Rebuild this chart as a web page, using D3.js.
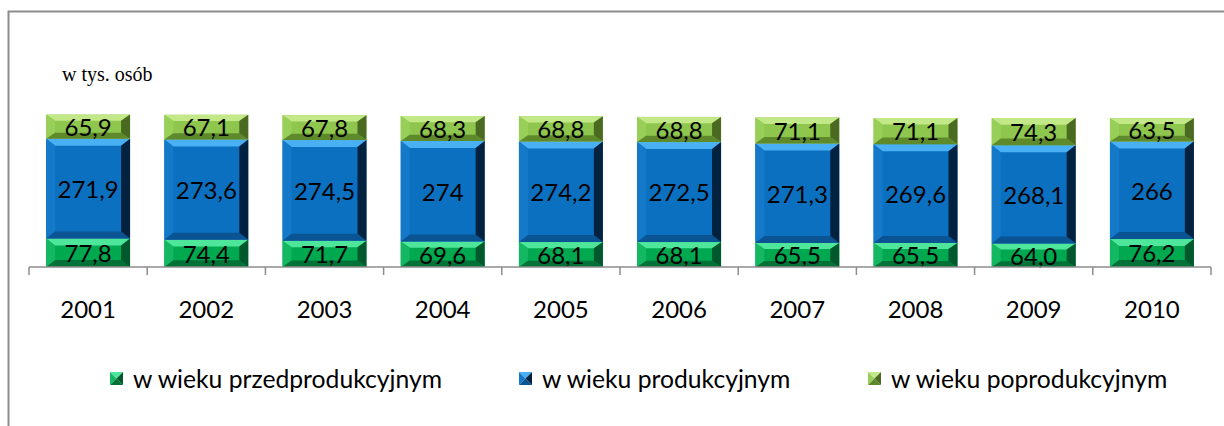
<!DOCTYPE html>
<html>
<head>
<meta charset="utf-8">
<script src="https://cdn.jsdelivr.net/npm/d3@7"></script>
<style>
  body { margin: 0; background: #fff; }
  svg text { font-family: Lato, "Open Sans", sans-serif; }
</style>
</head>
<body>
<svg width="1224" height="426"></svg>
<script>
// data (thousands of people)
var years = ["2001", "2002", "2003", "2004", "2005", "2006", "2007", "2008", "2009", "2010"];
var przed = [77.8, 74.4, 71.7, 69.6, 68.1, 68.1, 65.5, 65.5, 64.0, 76.2];
var prod = [271.9, 273.6, 274.5, 274, 274.2, 272.5, 271.3, 269.6, 268.1, 266];
var poprod = [65.9, 67.1, 67.8, 68.3, 68.8, 68.8, 71.1, 71.1, 74.3, 63.5];
var seriesNames = ["w wieku przedprodukcyjnym", "w wieku produkcyjnym", "w wieku poprodukcyjnym"];

var svg = d3.select("svg");

// outer frame
svg.append("path")
    .attr("d", "M8.5,426 L8.5,11.5 L1224,11.5")
    .attr("fill", "none")
    .attr("stroke", "#8c8c8c")
    .attr("stroke-width", 2);

svg.append("text")
    .attr("x", 62).attr("y", 81)
    .style("font-family", "'Liberation Serif', serif")
    .style("font-size", "20px")
    .text("w tys. osób");

var x = d3.scaleBand()
    .domain(years)
    .range([29, 1211])
    .paddingInner(0.29)
    .paddingOuter(0.145);

var y = d3.scaleLinear()
    .domain([0, 450])
    .range([267, 102]);

// colors: face + bevel sides
var pal = [
    { face: "#00a850", top: "#4ee69a", left: "#14b862", bottom: "#007238", right: "#00582c" },
    { face: "#0b70c0", top: "#4ab0f4", left: "#1479c8", bottom: "#0a5494", right: "#03223f" },
    { face: "#8ec64e", top: "#c2e888", left: "#98cf58", bottom: "#5f8a2c", right: "#4a6a22" }
];

var rows = years.map(function(yr, i){
    return { year: yr, vals: [przed[i], prod[i], poprod[i]] };
});

var stack = d3.stack().keys([0, 1, 2]).value(function(d, k){ return d.vals[k]; });
var layers = stack(rows);

function bevel(g, x0, y0, w, h, c) {
    var bv = Math.min(7, h / 4), bh = Math.min(9, w / 4);
    var x1 = x0 + w, y1 = y0 + h;
    g.append("rect").attr("x", x0).attr("y", y0).attr("width", w).attr("height", h).attr("fill", c.face);
    g.append("polygon").attr("fill", c.top)
        .attr("points", [[x0, y0], [x1, y0], [x1 - bh, y0 + bv], [x0 + bh, y0 + bv]].join(" "));
    g.append("polygon").attr("fill", c.left)
        .attr("points", [[x0, y0], [x0 + bh, y0 + bv], [x0 + bh, y1 - bv], [x0, y1]].join(" "));
    g.append("polygon").attr("fill", c.bottom)
        .attr("points", [[x0, y1], [x0 + bh, y1 - bv], [x1 - bh, y1 - bv], [x1, y1]].join(" "));
    g.append("polygon").attr("fill", c.right)
        .attr("points", [[x1, y0], [x1 - bh, y0 + bv], [x1 - bh, y1 - bv], [x1, y1]].join(" "));
}

function fmt(v, k) {
    if (k === 1) return String(v).replace(".", ",");
    return v.toFixed(1).replace(".", ",");
}

layers.forEach(function(layer, k){
    layer.forEach(function(d){
        var g = svg.append("g");
        var x0 = x(d.data.year), top = y(d[1]), bot = y(d[0]);
        bevel(g, x0, top, x.bandwidth(), bot - top, pal[k]);
        g.append("text")
            .attr("x", x0 + x.bandwidth() / 2)
            .attr("y", (top + bot) / 2 + 1)
            .attr("dy", "0.35em")
            .attr("text-anchor", "middle")
            .style("font-size", "24px")
            .attr("fill", "#000")
            .text(fmt(d.data.vals[k], k));
    });
});

// category axis
var axisG = svg.append("g").attr("transform", "translate(0,267)");
axisG.append("line").attr("x1", 29).attr("x2", 1211).attr("stroke", "#8c8c8c").attr("stroke-width", 1.5);
var step = x.step();
d3.range(years.length + 1).forEach(function(i){
    var tx = 29 + i * step;
    axisG.append("line").attr("x1", tx).attr("x2", tx).attr("y1", 0).attr("y2", 8)
        .attr("stroke", "#8c8c8c").attr("stroke-width", 1.5);
});
axisG.selectAll("text.year").data(years).enter().append("text")
    .attr("x", function(d){ return x(d) + x.bandwidth() / 2; })
    .attr("y", 43)
    .attr("dy", "0.35em")
    .attr("text-anchor", "middle")
    .style("font-size", "24px")
    .text(function(d){ return d; });

// legend
var legX = [110, 519, 868];
seriesNames.forEach(function(name, k){
    var g = svg.append("g").attr("transform", "translate(" + legX[k] + ",372)");
    var c = pal[k];
    g.append("polygon").attr("fill", c.top).attr("points", "0,0 13,0 6.5,6.5");
    g.append("polygon").attr("fill", c.left).attr("points", "0,0 6.5,6.5 0,13");
    g.append("polygon").attr("fill", c.bottom).attr("points", "0,13 6.5,6.5 13,13");
    g.append("polygon").attr("fill", c.right).attr("points", "13,0 6.5,6.5 13,13");
    g.append("text").attr("x", 23).attr("y", 7).attr("dy", "0.35em")
        .style("font-size", "24.7px").text(name);
});
</script>
</body>
</html>
